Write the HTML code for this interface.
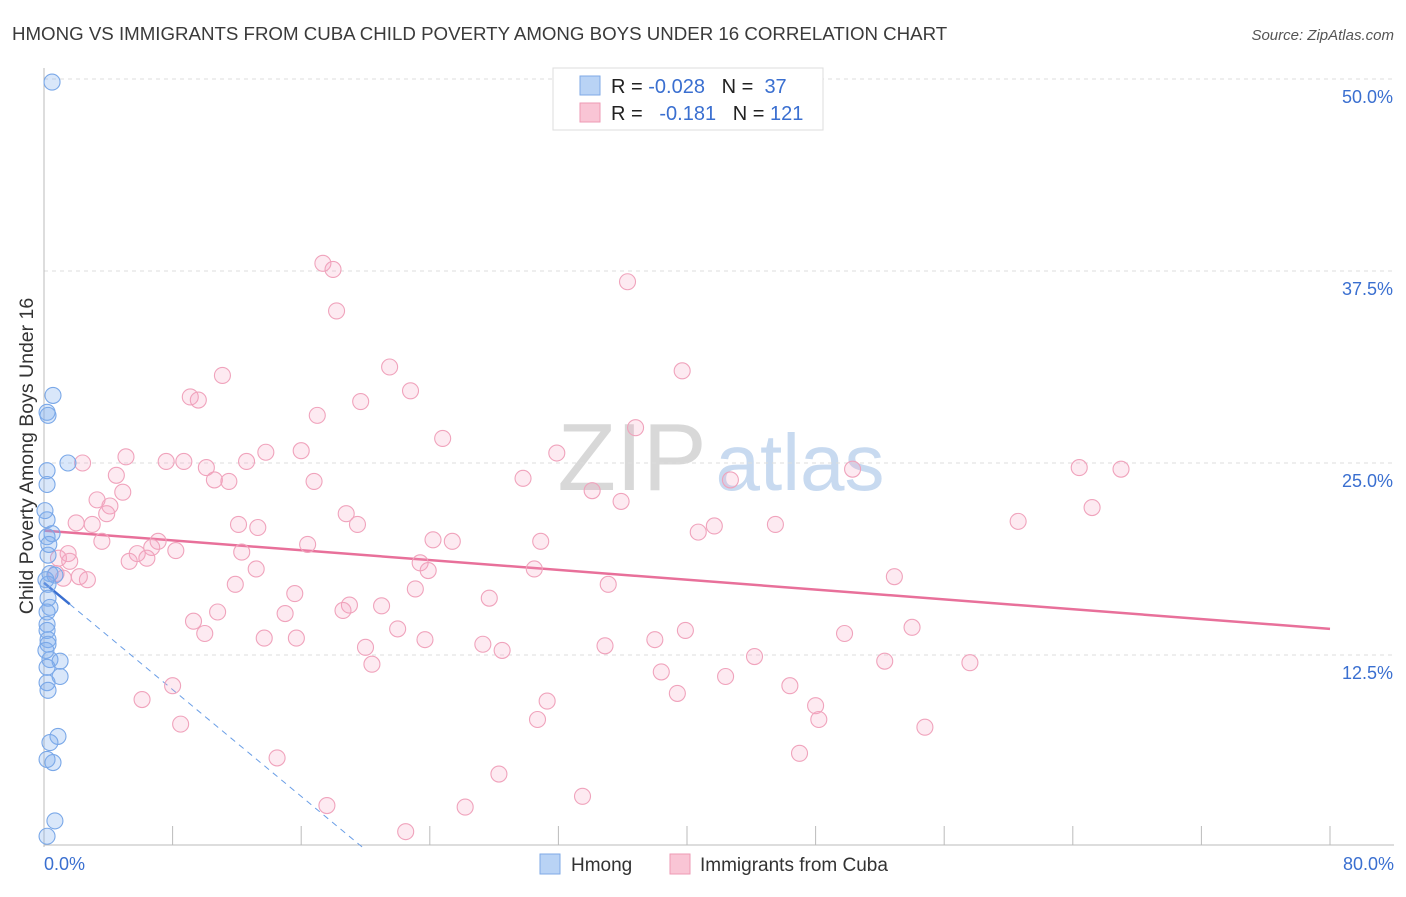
<!DOCTYPE html>
<html><head><meta charset="utf-8"><style>
body{margin:0;background:#fff;font-family:"Liberation Sans",sans-serif;}
svg text{font-family:"Liberation Sans",sans-serif;white-space:pre;}
</style></head><body>
<svg id="chart" width="1406" height="892" viewBox="0 0 1406 892" xmlns="http://www.w3.org/2000/svg" xml:space="preserve">
<text x="12" y="40" font-size="18.7" fill="#3a3a3a">HMONG VS IMMIGRANTS FROM CUBA CHILD POVERTY AMONG BOYS UNDER 16 CORRELATION CHART</text>
<text x="1394" y="40" font-size="15" fill="#555" text-anchor="end" font-style="italic">Source: ZipAtlas.com</text>
<g>
<text x="632" y="490" font-size="96" fill="#d8d8d8" font-family="Liberation Serif" text-anchor="middle">ZIP</text>
<text x="800" y="490" font-size="80" fill="#c8daf0" text-anchor="middle">atlas</text>
</g>
<g id="grid"></g><g id="axes"></g><g id="trend"></g><g id="pts"></g>
<text transform="translate(33,456) rotate(-90)" font-size="19.5" fill="#333" text-anchor="middle">Child Poverty Among Boys Under 16</text>
<g>
<rect x="553" y="68" width="270" height="62" fill="#fff" stroke="#ddd"/>
<rect x="580" y="76" width="20" height="19" fill="#b9d3f5" stroke="#7fa9e6"/>
<rect x="580" y="103" width="20" height="19" fill="#f9c5d5" stroke="#ee9ab4"/>
<text x="611" y="93" font-size="20" fill="#222">R = <tspan fill="#3a6fd0">-0.028</tspan>   N =  <tspan fill="#3a6fd0">37</tspan></text>
<text x="611" y="120" font-size="20" fill="#222">R =   <tspan fill="#3a6fd0">-0.181</tspan>   N = <tspan fill="#3a6fd0">121</tspan></text>
</g>
<g>
<rect x="540" y="854" width="20" height="20" fill="#b9d3f5" stroke="#7fa9e6"/>
<text x="571" y="871" font-size="19" fill="#333">Hmong</text>
<rect x="670" y="854" width="20" height="20" fill="#f9c5d5" stroke="#ee9ab4"/>
<text x="700" y="871" font-size="19" fill="#333">Immigrants from Cuba</text>
</g>
</svg>
<script>
const xTickVals=[0,8,16,24,32,40,48,56,64,72,80];
const yTickVals=[12.5,25,37.5,50];
const yTickLabels=["12.5%","25.0%","37.5%","50.0%"];
const xEndLabels=["0.0%","80.0%"];
const hmongX=[0.5,0.56,0.19,0.25,1.49,0.19,0.19,0.19,0.5,0.19,0.25,0.37,0.68,0.25,0.25,0.37,0.19,0.19,0.25,0.25,0.37,1.0,0.19,1.0,0.19,0.25,0.87,0.37,0.56,0.19,0.68,0.19,0.12,0.19,0.3,0.06,0.12];
const hmongY=[49.8,29.4,28.3,28.1,25.0,24.5,23.6,21.3,20.4,20.2,19.0,17.8,17.7,17.1,16.2,15.6,14.5,14.1,13.5,13.2,12.2,12.1,11.7,11.1,10.7,10.2,7.2,6.8,5.5,5.7,1.7,0.7,17.4,15.3,19.7,21.9,12.8];
const cubaX=[17.35,17.98,36.3,18.2,11.1,21.5,39.7,9.1,9.6,22.8,19.7,17.0,24.8,36.8,16.0,13.8,5.1,2.4,7.6,8.7,12.6,31.9,10.1,50.3,64.4,67.0,4.5,10.6,11.5,16.8,29.8,42.7,34.1,4.9,3.3,4.1,35.9,3.9,18.8,65.2,60.6,12.1,3.0,2.0,13.3,19.5,41.7,45.5,40.7,3.6,24.2,25.4,30.9,16.4,7.1,6.7,5.8,8.2,12.3,6.4,5.3,1.5,0.9,0.75,2.7,1.2,13.2,23.4,23.9,30.5,52.9,11.9,35.1,23.1,15.6,27.7,19.0,18.6,21.0,10.8,15.0,9.3,10.0,22.0,39.9,54.0,38.0,49.8,13.7,15.7,23.7,27.3,20.0,34.9,28.5,44.2,52.3,57.6,20.4,38.4,42.4,8.0,39.4,46.4,31.3,6.1,48.0,48.2,30.7,8.5,54.8,47.0,14.5,28.3,17.6,26.2,33.5,22.5,2.2,1.6];
const cubaY=[38.0,37.6,36.8,34.9,30.7,31.25,31.0,29.3,29.1,29.7,29.0,28.1,26.6,27.3,25.8,25.7,25.4,25.0,25.1,25.1,25.1,25.65,24.7,24.6,24.7,24.6,24.2,23.9,23.8,23.8,24.0,23.9,23.2,23.1,22.6,22.2,22.5,21.7,21.7,22.1,21.2,21.0,21.0,21.1,20.8,21.0,20.9,21.0,20.5,19.9,20.0,19.9,19.9,19.7,19.9,19.5,19.1,19.3,19.2,18.8,18.6,19.1,18.8,17.8,17.4,17.5,18.1,18.5,18.0,18.1,17.6,17.1,17.1,16.8,16.5,16.2,15.75,15.4,15.7,15.3,15.2,14.7,13.9,14.2,14.1,14.3,13.5,13.9,13.6,13.6,13.5,13.2,13.0,13.1,12.8,12.4,12.1,12.0,11.9,11.4,11.1,10.5,10.0,10.5,9.5,9.6,9.2,8.3,8.3,8.0,7.8,6.1,5.8,4.75,2.7,2.6,3.3,1.0,17.6,18.6];
const cubaTrend=[20.6,14.2];
const hmongTrend=[17.2,-0.869];
const hmongSolidEnd=1.6, hmongDashEnd=19.8;

const X0=44,X1=1330,Y0=847,YT=79;
const sx=v=>X0+v/80*(X1-X0);
const sy=v=>Y0-v/50*(Y0-YT);
const NS="http://www.w3.org/2000/svg";
function mk(tag,parent,attrs){const e=document.createElementNS(NS,tag);for(const k in attrs)e.setAttribute(k,attrs[k]);document.getElementById(parent).appendChild(e);return e;}

yTickVals.forEach((v,i)=>{
  const g=mk('line','grid',{x1:X0,x2:1394,y1:sy(v),y2:sy(v),stroke:'#ddd','stroke-dasharray':'4,4'});
  
  
  const t=mk('text','axes',{x:1393,y:sy(v)+24,'font-size':18,fill:'#3a6fd0','text-anchor':'end'});
  t.textContent=yTickLabels[i];
  
  
});
const ax=mk('line','axes',{x1:X0,x2:X0,y1:68,y2:Y0,stroke:'#bbb'});


const bx=mk('line','axes',{x1:X0,x2:1394,y1:845,y2:845,stroke:'#bbb'});


xTickVals.forEach(v=>{
  const t=mk('line','axes',{x1:sx(v),x2:sx(v),y1:826,y2:845,stroke:'#bbb'});
  
  
});
[[0,'start',44],[80,'end',1394]].forEach((d,i)=>{
  const t=mk('text','axes',{x:d[2],y:870,'font-size':18,fill:'#3a6fd0','text-anchor':d[1]});
  t.textContent=xEndLabels[i];
  
  
});

cubaX.forEach((v,i)=>{
  const c=mk('circle','pts',{cx:sx(v),cy:sy(cubaY[i]),r:8,fill:'rgba(245,160,190,0.22)',stroke:'#f0a3bc','stroke-width':1.1});
  
  
});
hmongX.forEach((v,i)=>{
  const c=mk('circle','pts',{cx:sx(v),cy:sy(hmongY[i]),r:8,fill:'rgba(130,175,240,0.3)',stroke:'#7aa8e8','stroke-width':1.1});
  
  
});
const ct=mk('line','trend',{x1:sx(0),y1:sy(cubaTrend[0]),x2:sx(80),y2:sy(cubaTrend[1]),stroke:'#e8709a','stroke-width':2.5});


const hy=x=>hmongTrend[0]+hmongTrend[1]*x;
const hs=mk('line','trend',{x1:sx(0),y1:sy(hy(0)),x2:sx(hmongSolidEnd),y2:sy(hy(hmongSolidEnd)),stroke:'#3a6fd0','stroke-width':2.5});


const hd=mk('line','trend',{x1:sx(hmongSolidEnd),y1:sy(hy(hmongSolidEnd)),x2:sx(hmongDashEnd),y2:sy(hy(hmongDashEnd)),stroke:'#6a9ee6','stroke-width':1,'stroke-dasharray':'6,5'});


</script>
</body></html>
